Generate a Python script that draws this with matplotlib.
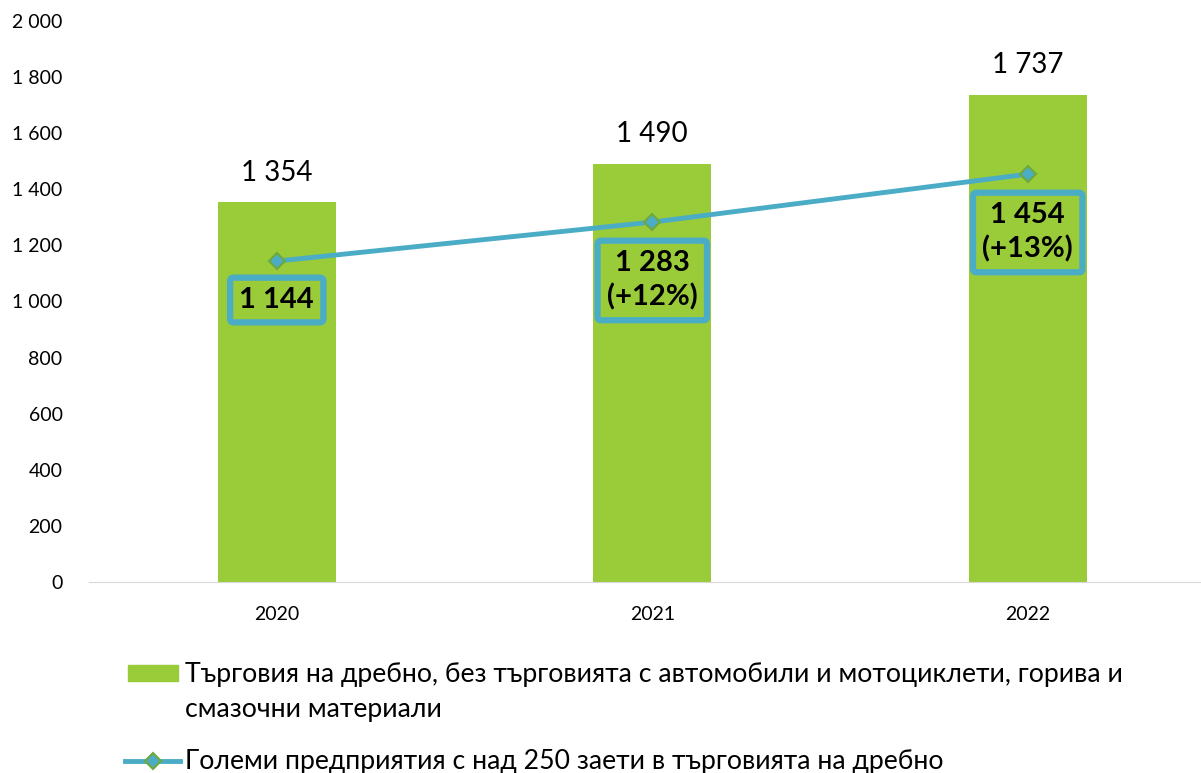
import numpy as np
import matplotlib.pyplot as plt
from matplotlib.patches import Rectangle
from matplotlib.lines import Line2D

plt.rcParams['font.family'] = ['Lato', 'Noto Sans', 'DejaVu Sans']

years = ['2020', '2021', '2022']
retail_total = [1354, 1490, 1737]
large_firms = [1144, 1283, 1454]
growth_labels = ['1 144', '1 283\n(+12%)', '1 454\n(+13%)']
bar_name_lines = ['Търговия на дребно, без търговията с автомобили и мотоциклети, горива и',
                  'смазочни материали']
line_name = 'Големи предприятия с над 250 заети в търговията на дребно'
yticks = [0, 200, 400, 600, 800, 1000, 1200, 1400, 1600, 1800, 2000]

GREEN = '#9ACB38'
BLUE = '#4BACC6'
EDGE = '#6FA83A'

W, H = 1201, 773

def fmt(v):
    return '{:,}'.format(v).replace(',', ' ')

fig = plt.figure(figsize=(W / 100, H / 100), dpi=100)
ax = fig.add_axes([89 / W, 191 / H, 1112 / W, 561 / H])

x = np.arange(len(years))
ax.bar(x, retail_total, width=0.314, color=GREEN, zorder=2)
ax.plot(x, large_firms, color=BLUE, lw=3.5, marker='D', ms=8,
        markerfacecolor=BLUE, markeredgecolor=EDGE, markeredgewidth=1.5, zorder=3)

for i, v in enumerate(retail_total):
    ax.annotate(fmt(v), (x[i], v), xytext=(0, 12), textcoords='offset points',
                ha='center', va='bottom', fontsize=20)

offsets = [-28, -42, -42]
for i, v in enumerate(large_firms):
    ax.annotate(growth_labels[i], (x[i], v), xytext=(0, offsets[i]), textcoords='offset points',
                ha='center', va='center', fontsize=21, fontweight='bold', linespacing=1.35,
                bbox=dict(boxstyle='round,pad=0.32,rounding_size=0.12', fc='none', ec=BLUE, lw=4.5),
                zorder=4)

ax.set_xlim(-0.5, -0.5 + 1112 / 375.5)
ax.set_ylim(0, 2000)
ax.set_yticks(yticks)
ax.set_yticklabels([fmt(t) for t in yticks])
ax.set_xticks(x)
ax.set_xticklabels(years)
ax.tick_params(axis='y', length=0, pad=19, labelsize=14)
ax.tick_params(axis='x', length=0, pad=17, labelsize=14)
for s in ['top', 'right', 'left']:
    ax.spines[s].set_visible(False)
ax.spines['bottom'].set_color('#D9D9D9')

# legend drawn by hand (pixel positions from the top of the figure)
fig.patches.append(Rectangle((128 / W, 1 - 681 / H), 50 / W, 16 / H, color=GREEN,
                             transform=fig.transFigure, figure=fig))
fig.lines.append(Line2D([125 / W, 180 / W], [1 - 761 / H] * 2, color=BLUE, lw=3.5,
                        transform=fig.transFigure, figure=fig))
fig.lines.append(Line2D([152.5 / W], [1 - 761 / H], marker='D', ms=8, markerfacecolor=BLUE,
                        markeredgecolor=EDGE, markeredgewidth=1.5,
                        transform=fig.transFigure, figure=fig))
fig.text(185 / W, 1 - 682 / H, bar_name_lines[0], fontsize=19.2, va='baseline')
fig.text(185 / W, 1 - 717 / H, bar_name_lines[1], fontsize=19.2, va='baseline')
fig.text(185 / W, 1 - 769 / H, line_name, fontsize=19.2, va='baseline')

fig.savefig('out.png', dpi=100)
